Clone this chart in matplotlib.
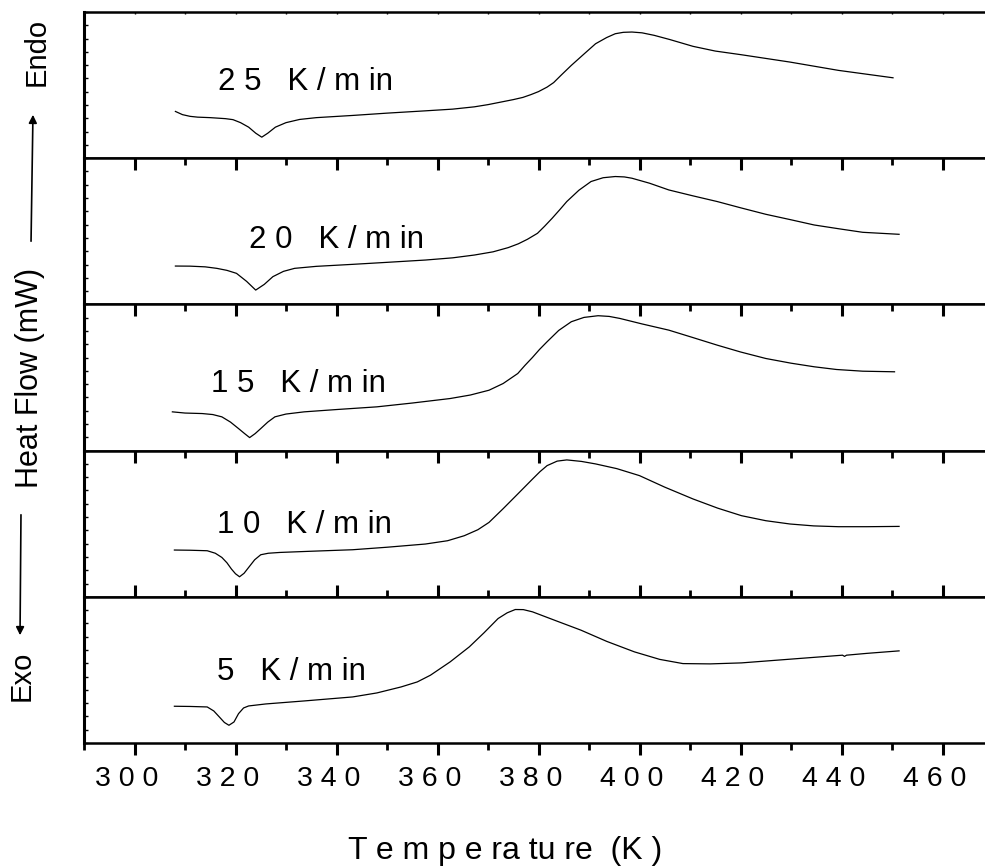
import numpy as np
import matplotlib
matplotlib.use("Agg")
import matplotlib.pyplot as plt
from matplotlib import font_manager
from matplotlib.ticker import MultipleLocator
from matplotlib.transforms import ScaledTranslation

names = {f.name for f in font_manager.fontManager.ttflist}
FONT = ["Liberation Sans Narrow"] if "Liberation Sans Narrow" in names else ["Liberation Sans"]
plt.rcParams["font.family"] = FONT + ["DejaVu Sans"]

# ---------------- data ----------------
rates = ["2 5   K / m in", "2 0   K / m in", "1 5   K / m in", "1 0   K / m in", "5   K / m in"]

temp_25 = [308.1, 309.5, 311, 312.5, 315, 318, 319.5, 321, 322.6, 324, 325.2, 326.4, 327.9, 330, 332.7, 336,
           343.2, 350, 357.6, 363, 367.3, 370, 372.5, 375, 376.9, 378.5, 380, 381.7, 383, 384.5, 386.5, 389,
           391.3, 393.5, 395.2, 396.8, 398.5, 400.5, 402.9, 406, 410.6, 415, 420.2, 429.8, 439.4, 450.2]
hf_25 = [46.7, 43.5, 41.8, 41, 40.5, 39.5, 38.5, 35.5, 31, 25, 21, 25, 31, 35.5, 38.7, 40.5,
         42.7, 45, 47.3, 49, 51.3, 53.5, 56, 58.5, 60.7, 63.5, 66.5, 71, 75.5, 83, 92.7, 104,
         114.3, 120.5, 124.3, 125.7, 126, 125.2, 122.7, 118.5, 111.7, 107, 103.3, 96, 87.7, 80.3]

temp_20 = [308.1, 311, 314, 316.3, 318.3, 320.2, 322.2, 324.0, 325.7, 327.4, 329.5, 331.7, 336, 343.2, 350,
           357.6, 363, 367.3, 371, 374.0, 376, 377.8, 379.8, 381.2, 382.7, 384.2, 385.6, 388, 390.4, 392.8,
           395.2, 397, 398.5, 402, 405.8, 410.5, 415.4, 420, 425.0, 430, 434.6, 439.5, 444.2, 451.4]
hf_20 = [38.3, 38.2, 37.5, 36, 34, 31, 23, 14.3, 20, 27.7, 33, 36, 38, 40, 42,
         44.3, 46.5, 49.3, 52.5, 56.7, 60.5, 65, 71, 78, 86, 94.5, 102.7, 114, 122.7, 126.5,
         127.7, 127.3, 126, 121, 114.3, 108.5, 102.7, 96.5, 90, 84.5, 79.3, 75.5, 72, 70]

temp_15 = [307.5, 310, 313.4, 315.5, 317.3, 319, 320.6, 321.8, 322.8, 323.9, 325.0, 326.4, 327.8, 330, 333.6,
           340, 348.0, 355, 362.5, 366.5, 370.2, 373, 375.9, 377.3, 378.8, 380.2, 381.7, 384, 386.5, 389,
           391.8, 394, 396.1, 400.5, 405.8, 410.5, 415.4, 420, 425.0, 430, 434.6, 439, 444.2, 450.5]
hf_15 = [38.7, 37.5, 37, 36, 33.7, 28.5, 22, 17, 13, 17, 22, 28.5, 33.7, 36.5, 38.7,
         41, 43.7, 47.5, 52, 55.5, 60.3, 67, 77, 85, 93, 101, 108.7, 120, 128.7, 133,
         134.7, 134, 132, 126.5, 120.3, 113, 105.3, 98.5, 92, 87.3, 83.7, 81, 79.3, 78.7]

temp_10 = [307.9, 311, 314.4, 316, 317.3, 318.3, 319.2, 320, 320.8, 321.7, 322.6, 323.8, 325.0, 326.5, 328.8,
           335, 343.2, 350, 357.6, 362, 365.3, 368, 370.2, 373, 375.9, 378.8, 380.3, 381.7, 383.7, 385.6,
           388.5, 391.3, 395.5, 400.0, 405, 410.6, 415.5, 420.2, 425, 429.8, 434.5, 439.4, 445, 451.4]
hf_10 = [46.7, 46.5, 46, 43.5, 39.3, 34, 27.7, 23, 20, 23.5, 29.3, 37, 42, 43.5, 44.3,
         45.5, 47, 49.5, 52.7, 56, 61, 67, 74.3, 88, 102.7, 117.5, 125, 131, 135.5, 136.7,
         135.2, 132.7, 128, 121, 109.5, 97.7, 88.5, 81, 76, 72.7, 70.8, 70, 70, 70.3]

temp_5 = [307.9, 311, 314.4, 315.7, 316.8, 317.8, 318.7, 319.7, 320.6, 321.6, 322.6, 326, 333.6, 343.2, 348,
          352.8, 356, 358.6, 362.5, 366.3, 369.2, 372.0, 373.8, 375.4, 377, 378.8, 383.5, 388.4, 393.5, 399.0,
          404, 408.6, 414, 420.2, 429.8, 440.2, 440.6, 441.0, 445, 451.4]
hf_5 = [36.7, 36.5, 36, 32, 26, 20.5, 17.7, 21, 29.3, 35, 37, 39, 42, 46, 50,
        56, 61, 67.7, 81, 96, 110, 124.3, 130, 133.3, 133.2, 131, 122, 112.7, 101.5, 91,
        83.5, 79.3, 79, 80, 83.7, 87.7, 86.5, 87.7, 89.5, 92]

temps = [temp_25, temp_20, temp_15, temp_10, temp_5]
flows = [hf_25, hf_20, hf_15, hf_10, hf_5]
label_pos = [(316.5, 76), (322.6, 64), (315.1, 67), (316.3, 72), (316.3, 71)]

xticks = [300, 320, 340, 360, 380, 400, 420, 440, 460]
xticklabels = [" ".join(str(v)) for v in xticks]

# ---------------- figure ----------------
W, H = 985, 866
fig = plt.figure(figsize=(W / 100, H / 100), dpi=100)

left_px, right_px = 84, 993
top_px, bot_px = 12, 743
ph = (bot_px - top_px) / 5.0

axes = []
for i in range(5):
    ytop = top_px + i * ph
    ax = fig.add_axes([left_px / W, 1 - (ytop + ph) / H, (right_px - left_px) / W, ph / H])
    axes.append(ax)
    ax.plot(temps[i], flows[i], color="black", lw=0.9)
    ax.set_xlim(290, 470)
    ax.set_ylim(0, 146)
    ax.set_yticks(np.linspace(0, 146, 12))
    ax.set_yticklabels([])
    ax.tick_params(axis="y", direction="in", length=2.6, width=1.0, left=True, right=False)
    ax.set_xticks(xticks)
    ax.xaxis.set_minor_locator(MultipleLocator(10))
    ax.spines["left"].set_linewidth(2.2)
    ax.spines["right"].set_visible(False)
    ax.spines["top"].set_linewidth(1.8)
    ax.spines["bottom"].set_linewidth(1.8)
    if i == 0:
        ax.tick_params(axis="x", which="both", top=True, bottom=False, direction="in",
                       length=1.2, width=1.0, labelbottom=False)
    elif i < 4:
        ax.tick_params(axis="x", which="major", top=True, bottom=False, direction="in",
                       length=8.4, width=2.2, labelbottom=False)
        ax.tick_params(axis="x", which="minor", top=True, bottom=False, direction="in",
                       length=4.8, width=2.0)
    else:
        ax.tick_params(axis="x", which="major", top=True, bottom=True, direction="in",
                       length=8.4, width=2.2, labelbottom=True)
        ax.tick_params(axis="x", which="minor", top=True, bottom=True, direction="in",
                       length=4.8, width=2.0)
        ax.tick_params(axis="x", which="both", bottom=True, direction="out")
        ax.tick_params(axis="x", which="major", pad=8, labelsize=20.5)
        ax.set_xticklabels(xticklabels)
        shift = ScaledTranslation(-8 / 100, 0, fig.dpi_scale_trans)
        for lab in ax.get_xticklabels():
            lab.set_transform(lab.get_transform() + shift)
    ax.text(label_pos[i][0], label_pos[i][1], rates[i], fontsize=22.5, ha="left", va="center")

fig.text(505 / W, 1 - 859 / H, "T e m p e ra tu re  (K )",
         ha="center", va="baseline", fontsize=23)

# y label with arrows
fig.text(30 / W, 1 - 378 / H, "Heat Flow (mW)", rotation=90, ha="center", va="center", fontsize=22)
fig.text(37 / W, 1 - 52 / H, "Endo", rotation=90, ha="center", va="center", fontsize=21)
fig.text(22 / W, 1 - 676 / H, "Exo", rotation=90, ha="center", va="center", fontsize=21)
fig.add_artist(matplotlib.patches.FancyArrowPatch((31 / W, 1 - 244 / H), (33 / W, 1 - 112 / H),
               transform=fig.transFigure, arrowstyle="-|>", mutation_scale=12, lw=1.2, color="black"))
fig.add_artist(matplotlib.patches.FancyArrowPatch((21 / W, 1 - 512 / H), (20 / W, 1 - 638 / H),
               transform=fig.transFigure, arrowstyle="-|>", mutation_scale=12, lw=1.2, color="black"))

fig.savefig("out.png", dpi=100)
